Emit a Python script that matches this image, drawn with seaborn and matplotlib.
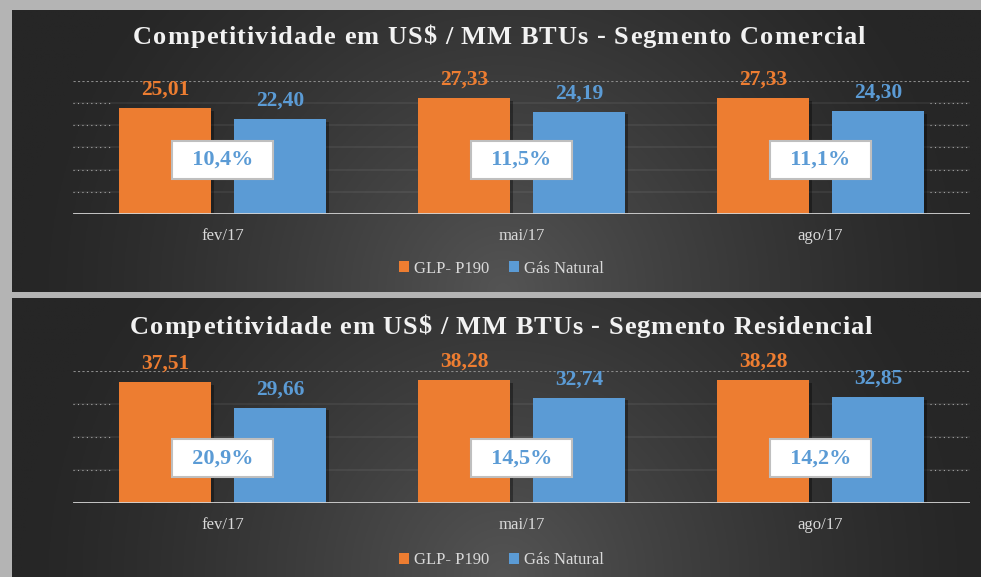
import numpy as np
import pandas as pd
import seaborn as sns
import matplotlib.pyplot as plt
import matplotlib.patheffects as pe
from matplotlib.textpath import TextToPath
from matplotlib.font_manager import FontProperties

# data
meses = ["fev/17", "mai/17", "ago/17"]
series = ["GLP- P190", "Gás Natural"]
glp_comercial = [25.01, 27.33, 27.33]
gn_comercial = [22.40, 24.19, 24.30]
glp_residencial = [37.51, 38.28, 38.28]
gn_residencial = [29.66, 32.74, 32.85]

titulos = ["Competitividade em US$ / MM BTUs - Segmento Comercial",
           "Competitividade em US$ / MM BTUs - Segmento Residencial"]

cores = ["#ED7D31", "#5B9BD5"]

sns.set_theme(style="dark")
plt.rcParams["font.family"] = ["Liberation Serif", "DejaVu Serif"]

W, H = 981, 577
fig = plt.figure(figsize=(W / 100, H / 100), dpi=100)
fig.set_facecolor("#b4b4b4")


def fundo(rect):
    # dark radial gradient like the excel chart area
    bg = fig.add_axes(rect, zorder=0)
    wp, hp = rect[2] * W, rect[3] * H
    X, Y = np.meshgrid(np.linspace(0, wp, 400), np.linspace(0, hp, 200))
    d = np.hypot(X - 0.5 * wp, Y - 1.0 * hp)
    t = np.clip(1 - d / 480, 0, 1) ** 1.3
    g = (38 + (84 - 38) * t) / 255
    bg.imshow(np.dstack([g, g, g]), aspect="auto", extent=[0, 1, 0, 1], origin="upper")
    bg.axis("off")


def titulo_espacado(texto, xc, y, largura_px, tamanho):
    # excel title has extra letter spacing: place the characters one by one
    prop = FontProperties(family="Liberation Serif", weight="bold", size=tamanho)
    t2p = TextToPath()
    def larg(s):
        return t2p.get_text_width_height_descent(s, prop, ismath=False)[0] * 100 / 72
    total = larg(texto)
    esp = (largura_px - total) / (len(texto) - 1)
    x0 = xc * W - largura_px / 2
    for i, ch in enumerate(texto):
        if ch == " ":
            continue
        x = x0 + larg(texto[:i]) + i * esp
        fig.text(x / W, y, ch, ha="left", va="center", fontproperties=prop, color="#f2f2f2")


def painel(ax, glp, gn, topo, ngrid, y_caixa, y_leg):
    df = pd.DataFrame({
        "mes": meses * 2,
        "serie": [series[0]] * 3 + [series[1]] * 3,
        "valor": glp + gn,
    })
    sns.barplot(data=df, x="mes", y="valor", hue="serie", palette=cores, saturation=1,
                width=0.77, gap=0.2, errorbar=None, linewidth=0, ax=ax, zorder=3)
    ax.set_facecolor("none")
    ax.set_xlim(-0.5, 2.5)
    ax.set_ylim(0, topo)
    ax.set_xlabel("")
    ax.set_ylabel("")
    ax.set_yticks([])
    for s in ax.spines.values():
        s.set_visible(False)

    # gridlines
    for i, y in enumerate(np.linspace(0, topo, ngrid + 1)[1:]):
        if i == ngrid - 1:
            ax.axhline(y, color="#8a8a8a", lw=0.8, ls=(0, (2, 2)), zorder=1)
        else:
            ax.axhline(y, color="#ffffff", alpha=0.06, lw=1.5, zorder=1)
            ax.axhline(y, xmin=0, xmax=0.045, color="#aaaaaa", lw=0.8, ls=(0, (1, 3)), zorder=1)
            ax.axhline(y, xmin=0.955, xmax=1, color="#aaaaaa", lw=0.8, ls=(0, (1, 3)), zorder=1)
    ax.axhline(0, color="#d4d4d4", lw=2, zorder=4)

    ax.tick_params(axis="x", length=0, pad=10, labelsize=12, labelcolor="#d9d9d9")

    sombra = [pe.SimplePatchShadow(offset=(2, -2), shadow_rgbFace="black", alpha=0.35), pe.Normal()]
    for cont, vals, cor in zip(ax.containers, [glp, gn], cores):
        for b in cont:
            b.set_path_effects(sombra)
        ax.bar_label(cont, labels=[f"{v:.2f}".replace(".", ",") for v in vals],
                     padding=6, color=cor, fontsize=15.5, fontweight="bold")

    # percentage boxes between the bars
    for i, (a, b) in enumerate(zip(glp, gn)):
        pct = (a - b) / a * 100
        ax.text(i, y_caixa, "  " + f"{pct:.1f}%".replace(".", ",") + "  ",
                transform=ax.get_xaxis_transform(), ha="center", va="center",
                color="#5B9BD5", fontsize=16, fontweight="bold", zorder=6,
                bbox=dict(boxstyle="square,pad=0.4", fc="white", ec="#bfbfbf", lw=1.5))

    leg = ax.legend(loc="center", bbox_to_anchor=(0.478, y_leg), ncol=2, frameon=False,
                    fontsize=12, handlelength=0.6, handleheight=0.6, handletextpad=0.3,
                    columnspacing=1.2, labelcolor="#d9d9d9")
    for h in leg.legend_handles:
        h.set_path_effects([])
        h.set_linewidth(0)


fundo([12 / W, (H - 292) / H, 1, 282 / H])
fundo([12 / W, 0, 1, (H - 298) / H])

ax1 = fig.add_axes([73 / W, (H - 214) / H, 897 / W, 133 / H], zorder=2)
ax2 = fig.add_axes([73 / W, (H - 503) / H, 897 / W, 132 / H], zorder=2)

painel(ax1, glp_comercial, gn_comercial, 31.4, 6, 0.406, -0.41)
painel(ax2, glp_residencial, gn_residencial, 41.0, 4, 0.34, -0.435)

titulo_espacado(titulos[0], 499 / W, (H - 37) / H, 732, 19)
titulo_espacado(titulos[1], 501 / W, (H - 327) / H, 742, 19)

fig.savefig("out.png", dpi=100)
